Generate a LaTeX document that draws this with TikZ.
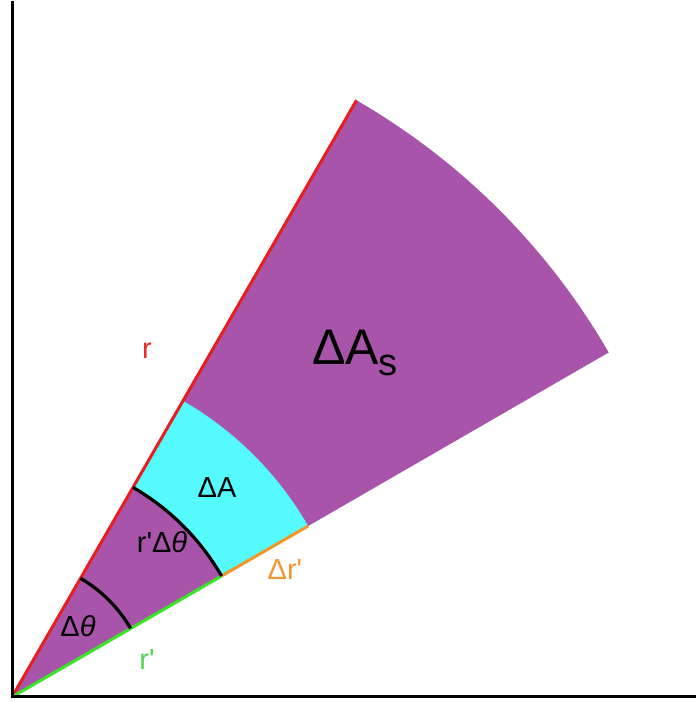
\documentclass[tikz,border=0pt]{standalone}
\usepackage{fontspec}
\setmainfont{Liberation Sans}
\definecolor{sectpurple}{RGB}{167,84,170}
\definecolor{sectcyan}{RGB}{85,250,252}
\definecolor{edgered}{RGB}{232,30,30}
\definecolor{edgegreen}{RGB}{60,228,40}
\definecolor{edgeorange}{RGB}{242,150,40}
\definecolor{labred}{RGB}{232,45,45}
\definecolor{laborange}{RGB}{242,150,50}
\definecolor{labgreen}{RGB}{80,215,80}
\newcommand{\pq}{\textquotesingle}
\begin{document}
\begin{tikzpicture}[x=1pt,y=1pt,
  axisline/.style={line width=3pt,black},
  edge/.style={line width=3pt},
  arcline/.style={line width=3.2pt,black},
  lab/.style={anchor=base,inner sep=0pt,font=\fontsize{29}{29}\selectfont}]
\useasboundingbox (0,0) rectangle (696,702);
\coordinate (O) at (12,5);
\coordinate (T) at ([shift={(60:689)}]O);
\coordinate (B) at ([shift={(30:689)}]O);
\coordinate (I1) at ([shift={(30:242)}]O);
\coordinate (I2) at ([shift={(60:242)}]O);
\coordinate (C1) at ([shift={(30:342)}]O);
\coordinate (C2) at ([shift={(60:342)}]O);
\coordinate (D1) at ([shift={(30:137)}]O);
\coordinate (Ytop) at (12,699);
\coordinate (Xend) at (696,5);
% sector
\fill[sectpurple] (O) -- (B) arc[start angle=30,end angle=60,radius=689] -- cycle;
\fill[sectcyan] (I1) -- (C1) arc[start angle=30,end angle=60,radius=342] -- (I2) arc[start angle=60,end angle=30,radius=242] -- cycle;
% edges
\draw[edge,edgered] (O) -- (T);
\draw[edge,edgegreen] (O) -- (I1);
\draw[edge,edgeorange] (I1) -- (C1);
% arcs
\draw[arcline] (I1) arc[start angle=30,end angle=60,radius=242];
\draw[arcline] (D1) arc[start angle=30,end angle=60,radius=137];
% axes
\draw[axisline,line cap=rect] (Ytop) -- (O) -- (Xend);
% labels
\node[lab,text=labred] (lr) at (147,343) {r};
\node[anchor=base west,inner sep=0pt,font=\fontsize{50}{50}\selectfont] (lAs) at (312,337) {ΔA\raisebox{-11pt}{\fontsize{38}{38}\selectfont s}};
\node[lab] (lA) at (217,204) {ΔA};
\node[lab] (lrdt) at (162,149) {r\pq Δ\textit{θ}};
\node[lab,text=laborange] (ldr) at (285,122) {Δr\pq};
\node[lab] (ldt) at (78,65) {Δ\textit{θ}};
\node[lab,text=labgreen] (lrp) at (147,32) {r\pq};
\end{tikzpicture}
\end{document}
